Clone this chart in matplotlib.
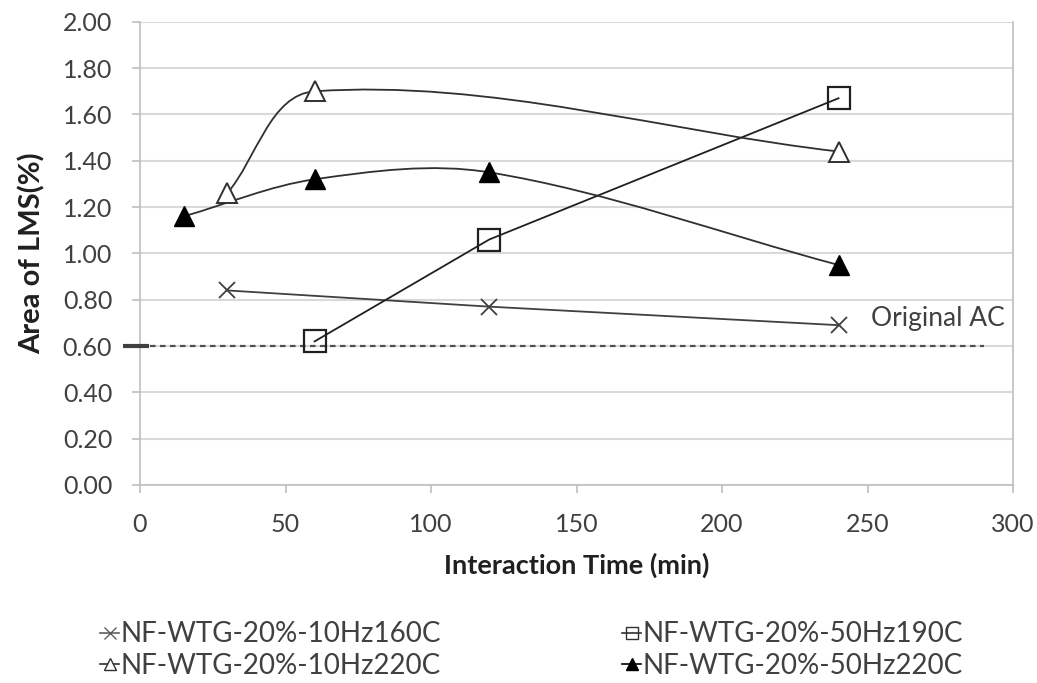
import numpy as np
import matplotlib.pyplot as plt
from matplotlib.path import Path
from matplotlib.patches import PathPatch

plt.rcParams['font.family'] = ['Lato', 'DejaVu Sans']

# Data
t_160 = [30, 120, 240]
lms_160 = [0.84, 0.77, 0.69]

t_190 = [60, 120, 240]
lms_190 = [0.62, 1.06, 1.67]

t_10_220 = [30, 60, 240]
lms_10_220 = [1.26, 1.70, 1.44]

t_50_220 = [15, 60, 120, 240]
lms_50_220 = [1.16, 1.32, 1.35, 0.95]

original_ac = 0.60

# pixels per data unit (used only to shape the smoothed curves)
SX = 873 / 300
SY = 463 / 2.0


def smooth_path(xs, ys):
    # smoothed line like a spreadsheet chart: bezier with tangent length tied to segment length
    p = np.column_stack([np.array(xs) * SX, np.array(ys) * SY]).astype(float)
    n = len(p)
    tang = []
    for i in range(n):
        a = p[i - 1] if i > 0 else p[i]
        b = p[i + 1] if i < n - 1 else p[i]
        d = b - a
        tang.append(d / np.hypot(*d))
    verts = [p[0]]
    codes = [Path.MOVETO]
    for i in range(n - 1):
        L = np.hypot(*(p[i + 1] - p[i])) / 3
        verts += [p[i] + tang[i] * L, p[i + 1] - tang[i + 1] * L, p[i + 1]]
        codes += [Path.CURVE4] * 3
    verts = np.array(verts) / [SX, SY]
    return Path(verts, codes)


fig = plt.figure(figsize=(10.37, 6.83), dpi=100)
ax = fig.add_axes([0.135, 0.29, 0.842, 0.678])

ax.set_xlim(0, 300)
ax.set_ylim(0, 2.0)
ax.set_xticks(np.arange(0, 301, 50))
ax.set_yticks(np.arange(0, 2.01, 0.2))
ax.set_yticklabels([f'{v:.2f}' for v in np.arange(0, 2.01, 0.2)])
ax.yaxis.grid(True, color='#d9d9d9', linewidth=1.5)
ax.set_axisbelow(True)
for s in ['left', 'right', 'bottom']:
    ax.spines[s].set_color('#bfbfbf')
    ax.spines[s].set_linewidth(1.2)
ax.spines['top'].set_visible(False)
ax.tick_params(colors='#bfbfbf', labelcolor='#404040', labelsize=18, length=6, width=1.2)
ax.tick_params(axis='x', pad=14)
ax.tick_params(axis='y', pad=14)

# original AC reference
ax.plot([0, 290], [original_ac, original_ac], color='#505050', linestyle=(0, (2.5, 2)),
        linewidth=1.6, zorder=2)
ax.plot([-0.02, 0.01], [original_ac / 2.0] * 2, transform=ax.transAxes, color='#404040',
        linewidth=3, clip_on=False, solid_capstyle='butt', zorder=5)
ax.text(251, 0.72, 'Original AC', fontsize=19, color='#404040', va='center')

# straight series
ax.plot(t_160, lms_160, color='#404040', linewidth=1.3, marker='x', markersize=12,
        markeredgewidth=1.3, markeredgecolor='#404040', zorder=3)
ax.plot(t_190, lms_190, color='#202020', linewidth=1.3, marker='s', markersize=16,
        markerfacecolor='none', markeredgewidth=1.6, markeredgecolor='#202020', zorder=3)

# smoothed series
ax.add_patch(PathPatch(smooth_path(t_10_220, lms_10_220), facecolor='none',
                       edgecolor='#303030', linewidth=1.3, zorder=3))
ax.plot(t_10_220, lms_10_220, linestyle='none', marker='^', markersize=15,
        markerfacecolor='white', markeredgecolor='#303030', markeredgewidth=1.4, zorder=4)
ax.add_patch(PathPatch(smooth_path(t_50_220, lms_50_220), facecolor='none',
                       edgecolor='#303030', linewidth=1.3, zorder=3))
ax.plot(t_50_220, lms_50_220, linestyle='none', marker='^', markersize=15,
        color='black', zorder=4)

ax.set_xlabel('Interaction Time (min)', fontsize=19.5, fontweight='bold', color='#202020',
              labelpad=12)
ax.set_ylabel('Area of LMS(%)', fontsize=21, fontweight='bold', color='#202020', labelpad=12)

# legend
h1, = ax.plot([], [], color='#606060', linewidth=1.2, marker='x', markersize=8)
h2, = ax.plot([], [], color='#303030', linewidth=1.2, marker='s', markersize=8,
              markerfacecolor='none')
h3, = ax.plot([], [], color='#303030', linewidth=1.2, marker='^', markersize=8,
              markerfacecolor='white')
h4, = ax.plot([], [], color='black', linewidth=1.2, marker='^', markersize=8)
fig.legend([h1, h3, h2, h4],
           ['NF-WTG-20%-10Hz160C', 'NF-WTG-20%-10Hz220C',
            'NF-WTG-20%-50Hz190C', 'NF-WTG-20%-50Hz220C'],
           ncol=2, frameon=False, loc='center left',
           bbox_to_anchor=(100 / 1037, 1 - 650 / 683), borderpad=0, borderaxespad=0,
           fontsize=20, handlelength=0.7, handletextpad=0.05, columnspacing=6.5,
           labelspacing=0.2, labelcolor='#404040')

fig.savefig('out.png', dpi=100)
